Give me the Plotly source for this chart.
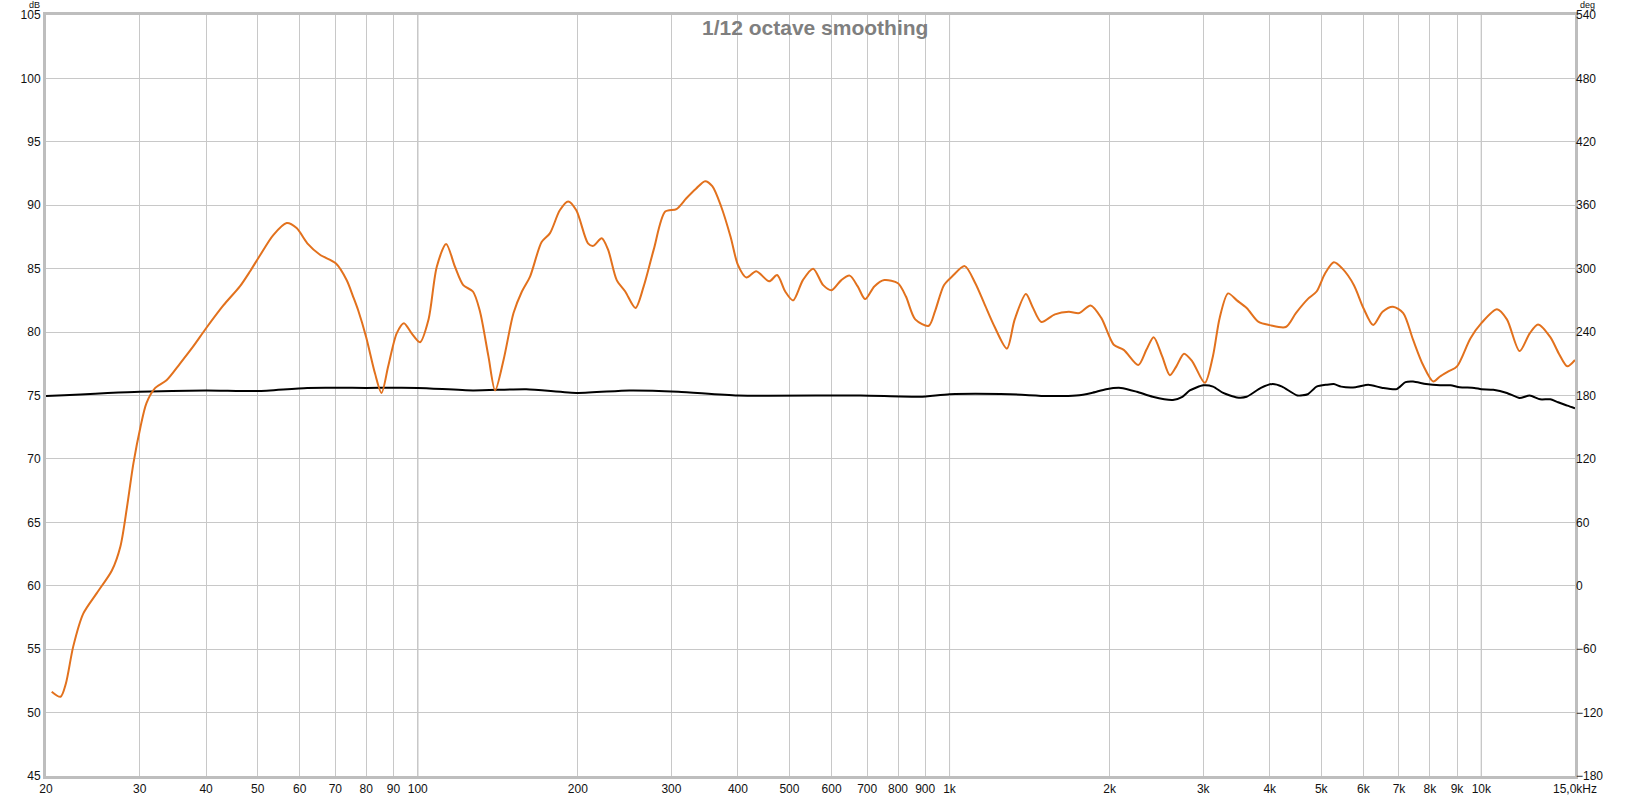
import math
import plotly.graph_objects as go

# ---- data ----
spl_freq = [20.5, 21.3, 21.8, 22.5, 23.5, 24.9, 26.6, 27.6, 28.4, 29.2, 30.1, 30.9, 32.1, 33.7, 35.7, 37.8,
            40, 43.1, 46.3, 48.4, 50.6, 53.5, 56.7, 59.2, 62, 65.5, 70.2, 73.5, 75.6, 77.3, 80, 83.1, 85.5,
            88, 91.3, 94.2, 97.4, 101, 104.8, 108.6, 113.1, 117.5, 121.8, 127, 130.8, 135.8, 139.8, 145,
            151.4, 157, 162.7, 171, 177.3, 185, 191.8, 198.7, 209, 213.8, 221.8, 228, 236.7, 245.6, 256.7,
            266, 277.8, 292, 306.6, 320, 333.6, 347, 358, 372, 387.6, 400, 415, 433, 458, 474, 491, 508,
            530, 554, 578.6, 600, 626, 649, 672, 694, 722, 754, 800, 828, 862, 914, 940, 976, 1012, 1068,
            1118, 1161, 1216, 1282, 1326, 1392, 1432, 1488, 1578, 1676, 1754, 1842, 1930, 2036, 2126, 2264,
            2345, 2420, 2510, 2596, 2670, 2760, 2860, 3020, 3128, 3220, 3340, 3470, 3620, 3812, 4000, 4288,
            4480, 4715, 4900, 5080, 5280, 5480, 5760, 6000, 6260, 6520, 6820, 7130, 7440, 7770, 8120, 8360,
            8670, 9000, 9536, 10000, 10700, 11170, 11800, 12330, 12780, 13480, 13990, 14510, 15000]
spl_db = [51.65, 51.25, 52.3, 55.2, 57.8, 59.4, 61.2, 63.1, 66.2, 69.65, 72.5, 74.4, 75.6, 76.2, 77.5, 78.85,
          80.3, 82.1, 83.6, 84.8, 86.1, 87.65, 88.6, 88.2, 87.0, 86.1, 85.4, 84.1, 82.8, 81.7, 79.6, 76.75, 75.2,
          77.3, 79.9, 80.7, 79.9, 79.2, 81.0, 85.15, 86.95, 85.15, 83.7, 83.2, 81.7, 78.1, 75.4, 77.8,
          81.5, 83.2, 84.4, 87.1, 87.8, 89.6, 90.3, 89.6, 87.0, 86.8, 87.4, 86.5, 84.1, 83.2, 81.9,
          83.6, 86.5, 89.5, 89.7, 90.55, 91.3, 91.9, 91.5, 89.9, 87.5, 85.3, 84.3, 84.8, 84.0, 84.5, 83.2, 82.5,
          84.1, 85.0, 83.7, 83.3, 84.1, 84.45, 83.6, 82.6, 83.6, 84.1, 83.85, 82.8, 81.0, 80.5, 81.7, 83.7, 84.4, 85.2,
          83.85, 82.3, 80.4, 78.7, 81.0, 83.0, 82.0, 80.8, 81.4, 81.6, 81.5, 82.1, 81.1, 79.0, 78.6, 77.4,
          78.6, 79.6, 78.1, 76.6, 77.3, 78.3, 77.7, 76.0, 78.1, 81.1, 83.05, 82.5, 81.9, 80.8, 80.55, 80.4,
          81.5, 82.6, 83.2, 84.6, 85.5, 85.0, 83.7, 81.9, 80.55, 81.6, 82.0, 81.5, 79.4, 77.4, 76.1, 76.5,
          76.9, 77.3, 79.5, 80.7, 81.8, 81.0, 78.5, 79.9, 80.6, 79.6, 78.3, 77.3, 77.8]

ref_freq = [20, 30, 40, 50, 62, 80, 100, 127, 160, 200, 250, 309, 400, 680, 880, 1000, 1300, 1530, 1730,
            1850, 1970, 2100, 2250, 2410, 2630, 2740, 2830, 3000, 3130, 3270, 3470, 3620, 3850, 4050, 4220,
            4510, 4715, 4900, 5120, 5280, 5450, 5800, 6130, 6520, 6930, 7200, 7440, 7870, 8360, 8750, 9100,
            9700, 10000, 10530, 11170, 11800, 12330, 12900, 13480, 13880, 14510, 15000]
ref_db = [74.96, 75.3, 75.4, 75.35, 75.6, 75.6, 75.6, 75.4, 75.5, 75.2, 75.4, 75.3, 75.0, 75.0, 74.9, 75.1, 75.1,
          74.96, 75.0, 75.2, 75.5, 75.6, 75.3, 74.9, 74.65, 74.9, 75.4, 75.8, 75.7, 75.2, 74.85, 74.9, 75.6, 75.9,
          75.7, 75.0, 75.1, 75.7, 75.85, 75.9, 75.7, 75.65, 75.85, 75.6, 75.5, 76.05, 76.1, 75.9, 75.8, 75.8,
          75.65, 75.6, 75.5, 75.45, 75.2, 74.8, 75.0, 74.7, 74.7, 74.5, 74.2, 74.0]

x_tickvals = [20, 30, 40, 50, 60, 70, 80, 90, 100, 200, 300, 400, 500, 600, 700, 800, 900,
              1000, 2000, 3000, 4000, 5000, 6000, 7000, 8000, 9000, 10000, 15000]
x_ticktext = ["20", "30", "40", "50", "60", "70", "80", "90", "100", "200", "300", "400", "500", "600",
              "700", "800", "900", "1k", "2k", "3k", "4k", "5k", "6k", "7k", "8k", "9k", "10k", "15,0kHz"]
decade_lines = [100, 1000, 10000]
db_ticks = [45, 50, 55, 60, 65, 70, 75, 80, 85, 90, 95, 100, 105]
deg_ticks = [-180, -120, -60, 0, 60, 120, 180, 240, 300, 360, 420, 480, 540]
title_text = "1/12 octave smoothing"

FONT = "Liberation Sans, Arial, sans-serif"

fig = go.Figure()
fig.add_trace(go.Scatter(x=ref_freq, y=ref_db, mode="lines",
                         line=dict(color="#000000", width=2, shape="spline", smoothing=0.6),
                         showlegend=False, hoverinfo="skip"))
fig.add_trace(go.Scatter(x=spl_freq, y=spl_db, mode="lines",
                         line=dict(color="#E2711D", width=2, shape="spline", smoothing=0.8),
                         showlegend=False, hoverinfo="skip"))
# invisible trace to activate right axis
fig.add_trace(go.Scatter(x=[20], y=[0], yaxis="y2", mode="markers",
                         marker=dict(opacity=0), showlegend=False, hoverinfo="skip"))

for f in decade_lines:
    fig.add_shape(type="line", xref="x", yref="paper", x0=f, x1=f, y0=0, y1=1,
                  line=dict(color="#7A7A7A", width=1), layer="below")

fig.update_layout(
    width=1633, height=796,
    margin=dict(l=46, r=58, t=15, b=20, autoexpand=False),
    paper_bgcolor="white", plot_bgcolor="white",
    font=dict(family=FONT, size=12, color="#111111"),
    xaxis=dict(type="log", range=[math.log10(20), math.log10(15000)], automargin=False,
               tickmode="array", tickvals=x_tickvals, ticktext=x_ticktext,
               showgrid=True, gridcolor="#C8C8C8", gridwidth=1,
               showline=True, linecolor="#BEBEBE", linewidth=3, mirror=True,
               ticks="", zeroline=False, tickfont=dict(size=12, family=FONT)),
    yaxis=dict(range=[45, 105], tickmode="array", tickvals=db_ticks, automargin=False,
               showgrid=True, gridcolor="#C8C8C8", gridwidth=1,
               showline=True, linecolor="#BEBEBE", linewidth=3, mirror=True,
               ticks="", zeroline=False, tickfont=dict(size=12, family=FONT)),
    yaxis2=dict(range=[-180, 540], tickmode="array", tickvals=deg_ticks, automargin=False,
                overlaying="y", side="right", showgrid=False, zeroline=False,
                showline=False, ticks="", tickfont=dict(size=12, family=FONT)),
    annotations=[
        dict(text="<b>" + title_text + "</b>", xref="paper", yref="paper", x=0.503, y=0.984,
             xanchor="center", yanchor="middle", showarrow=False,
             font=dict(family=FONT, size=21, color="#7F7F7F")),
        dict(text="dB", xref="paper", yref="paper", x=0, y=1, xshift=-12, yshift=17,
             xanchor="center", yanchor="top", showarrow=False,
             font=dict(family=FONT, size=9, color="#111111")),
        dict(text="deg", xref="paper", yref="paper", x=1, y=1, xshift=3, yshift=17,
             xanchor="left", yanchor="top", showarrow=False,
             font=dict(family=FONT, size=9, color="#111111")),
    ],
)

fig.write_html("out.html", config={"displayModeBar": False},
               post_script="document.body.style.margin='0px';document.body.style.overflow='hidden';")
